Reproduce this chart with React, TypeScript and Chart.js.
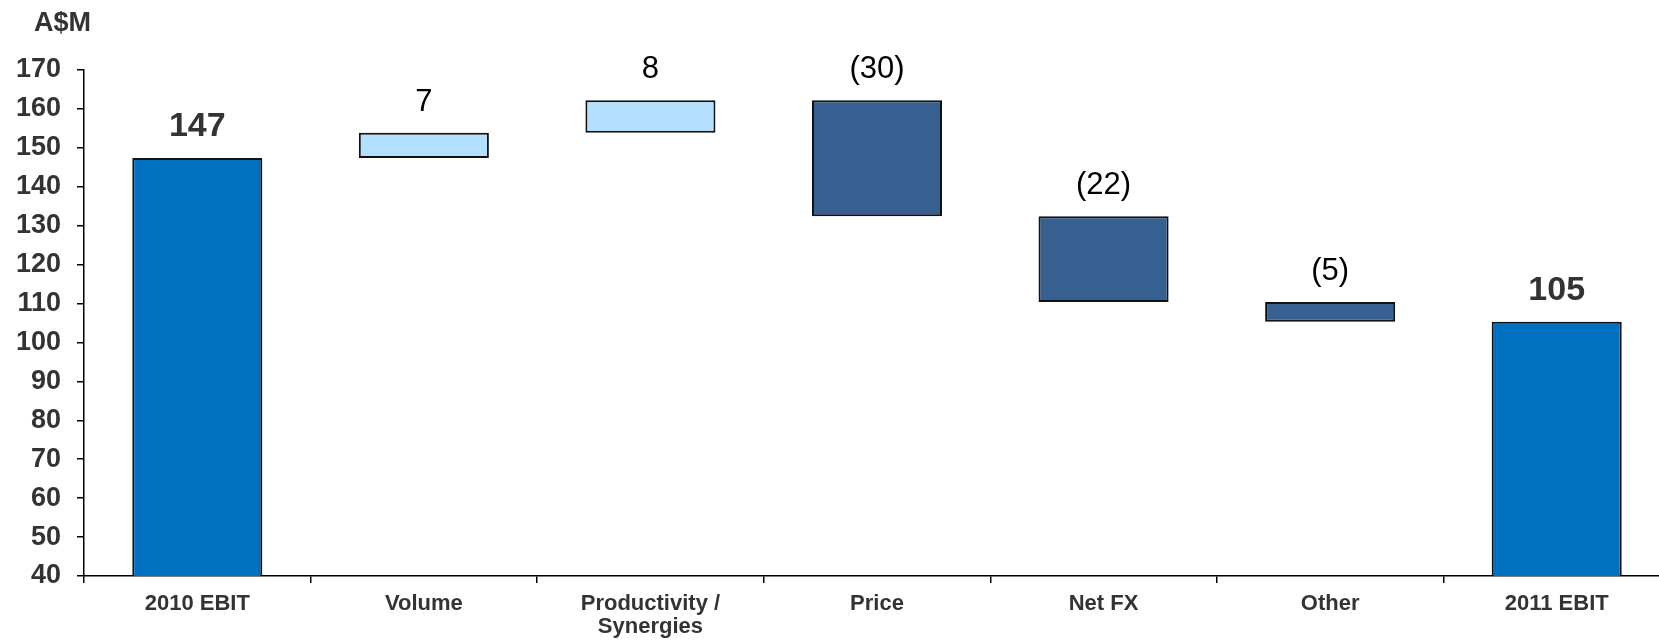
import React, { useEffect, useRef } from "react";
import { Chart, registerables } from "chart.js";

Chart.register(...registerables);

const categories: (string | string[])[] = [
  "2010 EBIT",
  "Volume",
  ["Productivity /", "Synergies"],
  "Price",
  "Net FX",
  "Other",
  "2011 EBIT",
];
const startValue = 147.4;
const changes = [6.5, 8.3, -29.8, -22.0, -5.1];
const endValue = 105.3;
const valueLabels = ["147", "7", "8", "(30)", "(22)", "(5)", "105"];
const yMin = 40;
const yMax = 170;
const yStep = 10;
const unitLabel = "A$M";

const TOTAL_COLOR = "#0070C0";
const UP_COLOR = "#B3E0FF";
const DOWN_COLOR = "#35608F";
const FONT = "'Liberation Sans', Arial, sans-serif";

export default function App() {
  const ref = useRef<HTMLCanvasElement | null>(null);

  useEffect(() => {
    if (!ref.current) return;
    const bars: [number, number][] = [];
    const colors: string[] = [];
    const isTotal: boolean[] = [];
    bars.push([0, startValue]);
    colors.push(TOTAL_COLOR);
    isTotal.push(true);
    let level = startValue;
    for (const d of changes) {
      const next = level + d;
      bars.push([Math.min(level, next), Math.max(level, next)]);
      colors.push(d >= 0 ? UP_COLOR : DOWN_COLOR);
      isTotal.push(false);
      level = next;
    }
    bars.push([0, endValue]);
    colors.push(TOTAL_COLOR);
    isTotal.push(true);

    const labelPlugin = {
      id: "wfLabels",
      afterDatasetsDraw(chart: any) {
        const ctx = chart.ctx;
        const meta = chart.getDatasetMeta(0);
        ctx.save();
        ctx.textAlign = "center";
        ctx.textBaseline = "alphabetic";
        meta.data.forEach((el: any, i: number) => {
          const top = Math.min(el.y, el.base);
          if (isTotal[i]) {
            ctx.font = `bold 34px ${FONT}`;
            ctx.fillStyle = "#333333";
          } else {
            ctx.font = `31px ${FONT}`;
            ctx.fillStyle = "#000000";
          }
          ctx.fillText(valueLabels[i], el.x, top - 22);
        });
        ctx.font = `bold 27px ${FONT}`;
        ctx.fillStyle = "#333333";
        ctx.textAlign = "left";
        ctx.fillText(unitLabel, 34, 31);
        ctx.restore();
      },
    };

    const chart = new Chart(ref.current, {
      type: "bar",
      data: {
        labels: categories,
        datasets: [
          {
            data: bars as any,
            backgroundColor: colors,
            borderColor: "#111111",
            borderWidth: 2,
            borderSkipped: false,
            barPercentage: 0.574,
            categoryPercentage: 1,
          },
        ],
      },
      options: {
        responsive: false,
        animation: false,
        layout: { padding: { top: 70, left: 0, right: 2, bottom: 0 } },
        plugins: {
          legend: { display: false },
          tooltip: { enabled: false },
        },
        scales: {
          x: {
            grid: {
              display: true,
              drawOnChartArea: false,
              drawTicks: true,
              tickLength: 7,
              color: "#000000",
              lineWidth: 1.5,
              offset: true,
            },
            border: { color: "#000000", width: 1.5 },
            ticks: {
              color: "#333333",
              font: { family: FONT, size: 22, weight: "bold", lineHeight: 1.05 },
              padding: 9,
              maxRotation: 0,
              autoSkip: false,
            },
            afterFit(scale: any) {
              scale.height = 65;
            },
          },
          y: {
            min: yMin,
            max: yMax,
            grid: {
              display: true,
              drawOnChartArea: false,
              drawTicks: true,
              tickLength: 7,
              color: "#000000",
              lineWidth: 1.5,
            },
            border: { color: "#000000", width: 1.5 },
            ticks: {
              stepSize: yStep,
              color: "#333333",
              font: { family: FONT, size: 27, weight: "bold" },
              padding: 16,
            },
            afterFit(scale: any) {
              scale.width = 84;
            },
          },
        },
      },
      plugins: [labelPlugin],
    });
    return () => chart.destroy();
  }, []);

  return (
    <div
      style={{
        position: "absolute",
        left: 0,
        top: 0,
        width: 1659,
        height: 641,
        overflow: "hidden",
        background: "#ffffff",
      }}
    >
      <canvas ref={ref} width={1672} height={641} style={{ display: "block" }} />
    </div>
  );
}
